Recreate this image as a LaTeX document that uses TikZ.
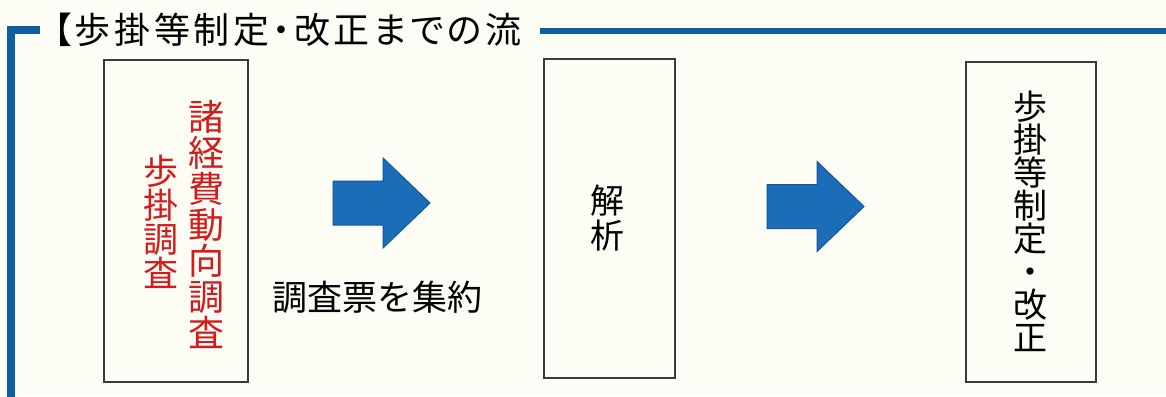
\documentclass[tikz,border=0pt]{standalone}
\usepackage{fontspec}
\setmainfont{Noto Sans CJK JP}
\newfontfamily\jpfont{Noto Sans CJK JP}
\newfontfamily\jptitle[RawFeature=+palt,LetterSpace=10]{Noto Sans CJK JP}
\definecolor{paper}{HTML}{FDFCF5}
\definecolor{frameblue}{HTML}{0E5EA6}
\definecolor{arrowblue}{HTML}{1C6DB8}
\definecolor{arrowedge}{HTML}{0F5799}
\definecolor{redtext}{HTML}{D11C1C}
\definecolor{boxline}{HTML}{3A3A3A}
\begin{document}
\begin{tikzpicture}[x=1pt,y=-1pt,
  stepbox/.style={draw=boxline,line width=1.8pt,fill=none,inner sep=0pt},
  vtext/.style={inner sep=0pt,align=center,font=\jpfont},
  frame/.style={draw=frameblue,line cap=butt,line join=miter},
  blockarr/.pic={
    \fill[arrowblue,draw=arrowedge,line width=1pt,line join=miter]
      (0,-22) -- (50,-22) -- (50,-45) -- (97,0) -- (50,45) -- (50,22) -- (0,22) -- cycle;
  }]
\fill[paper] (0,0) rectangle (1166,396);
\useasboundingbox (0,0) rectangle (1166,396);
% frame lines
\coordinate (fl0) at (11,400);
\coordinate (fl1) at (11,30);
\coordinate (fl2) at (40,30);
\coordinate (fr0) at (540,31);
\coordinate (fr1) at (1170,31);
\draw[frame,line width=8pt] (fl0) -- (fl1) -- (fl2);
\draw[frame,line width=5.5pt] (fr0) -- (fr1);
% title
\node[anchor=west,inner sep=0pt,font=\jptitle\fontsize{36}{36}\selectfont] (title) at (53,30) {【歩掛等制定・改正までの流};
% boxes
\node[stepbox,minimum width=144pt,minimum height=322pt] (b1) at (176,221) {};
\node[stepbox,minimum width=131pt,minimum height=319pt] (b2) at (609.5,218.5) {};
\node[stepbox,minimum width=130pt,minimum height=320pt] (b3) at (1031,222) {};
% texts
\node[vtext,text=redtext,font=\jpfont\fontsize{36}{36}\selectfont] (t1a) at (206.5,224) {諸\\経\\費\\動\\向\\調\\査};
\node[vtext,text=redtext,font=\jpfont\fontsize{35}{34}\selectfont] (t1b) at (161,222) {歩\\掛\\調\\査};
\node[vtext,font=\jpfont\fontsize{34}{35}\selectfont] (t2) at (607.5,218) {解\\析};
\node[vtext,font=\jpfont\fontsize{34}{33}\selectfont] (t3) at (1030,221.5) {歩\\掛\\等\\制\\定\\・\\改\\正};
\node[inner sep=0pt,font=\jpfont\fontsize{35}{35}\selectfont] (lab) at (377,297) {調査票を集約};
% arrows
\pic at (333,203) {blockarr};
\pic at (767,206.5) {blockarr};
\end{tikzpicture}
\end{document}
